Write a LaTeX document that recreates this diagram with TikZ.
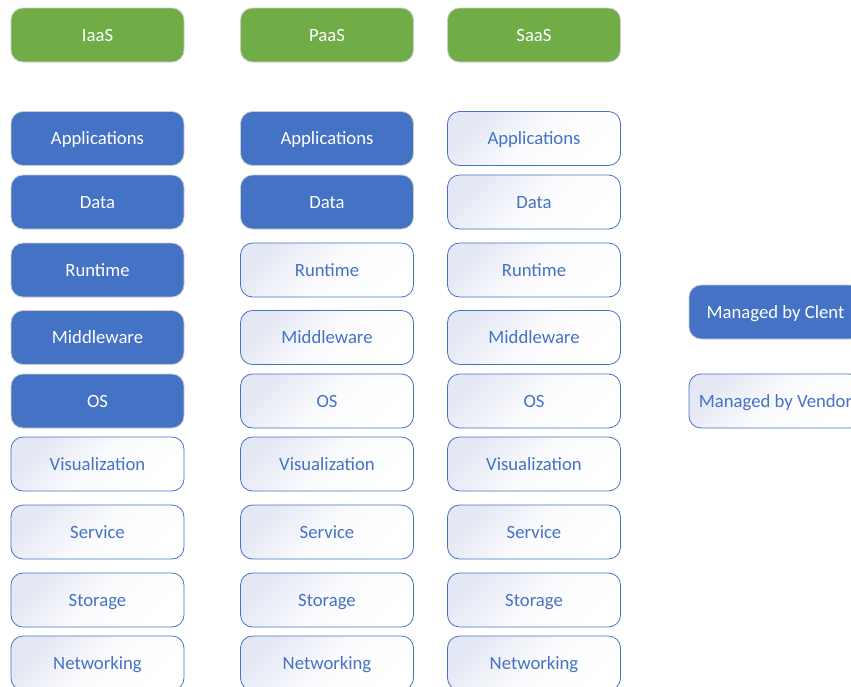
\documentclass[tikz,border=0pt]{standalone}
\usepackage{fontspec}
\setmainfont{Carlito}
\definecolor{cloudgreen}{HTML}{70AD47}
\definecolor{clientblue}{HTML}{4472C4}
\definecolor{vendortint}{HTML}{E4E7F4}
\tikzset{
  layer/.style={rounded corners=12pt, minimum width=173pt, minimum height=54pt, inner sep=0pt, line width=0.8pt, font=\fontsize{18.7}{22}\selectfont, text height=12pt, text depth=0pt},
  model/.style={layer, fill=cloudgreen, draw=gray!40, text=white},
  client/.style={layer, fill=clientblue, draw=gray!40, text=white},
  vendor/.style={layer, draw=clientblue, text=clientblue, top color=vendortint, bottom color=white, middle color=white!85!vendortint, shading angle=45},
}
\begin{document}
\begin{tikzpicture}[x=1pt, y=1pt]
  \useasboundingbox (0,0) rectangle (851,-686);
  \node[model] (iaas) at (97.5,-35) {IaaS};
  \node[model] (paas) at (327,-35) {PaaS};
  \node[model] (saas) at (534,-35) {SaaS};
  \foreach \lay/\ypos [count=\i] in {Applications/138.5, Data/202, Runtime/270, Middleware/337.5, OS/401, Visualization/464, Service/532, Storage/600, Networking/663}{
    \ifnum\i<6 \def\iaasstyle{client}\else\def\iaasstyle{vendor}\fi
    \ifnum\i<3 \def\paasstyle{client}\else\def\paasstyle{vendor}\fi
    \node[\iaasstyle] (iaas-\i) at (97.5,-\ypos) {\lay};
    \node[\paasstyle] (paas-\i) at (327,-\ypos) {\lay};
    \node[vendor] (saas-\i) at (534,-\ypos) {\lay};
  }
  \node[client] (key-client) at (775.5,-312) {Managed by Clent};
  \node[vendor] (key-vendor) at (775.5,-401) {Managed by Vendor};
\end{tikzpicture}
\end{document}
